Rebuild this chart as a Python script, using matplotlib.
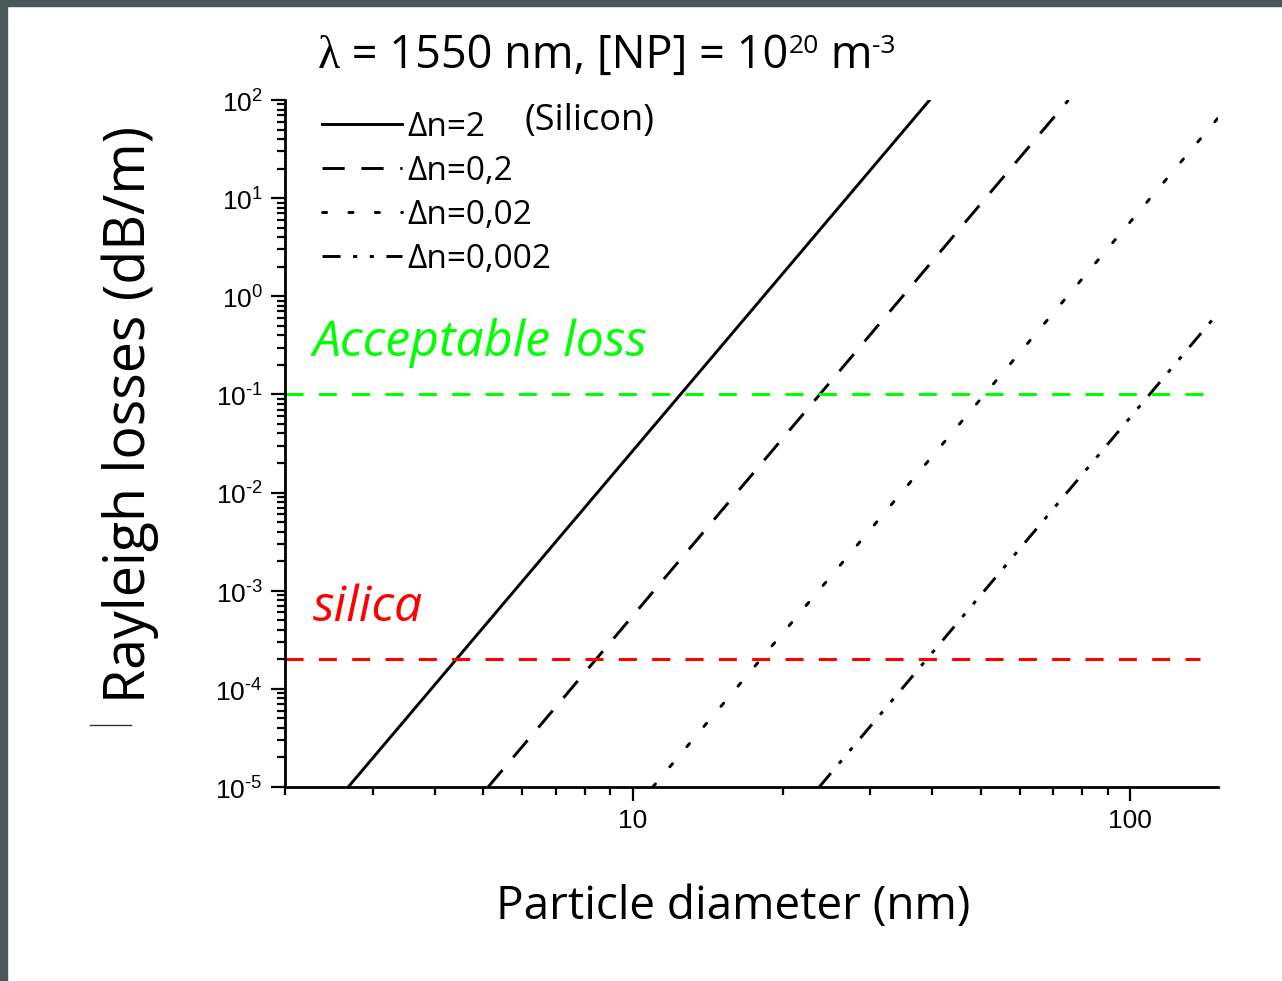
import matplotlib
matplotlib.use("Agg")
import matplotlib.pyplot as plt
from matplotlib.ticker import LogLocator, FixedLocator, FixedFormatter, NullFormatter
from matplotlib.patches import Rectangle
from matplotlib.lines import Line2D
import numpy as np

plt.rcParams['lines.scale_dashes'] = False
plt.rcParams['mathtext.fontset'] = 'custom'
plt.rcParams['mathtext.rm'] = 'Liberation Sans'

############ data #########################################
# each curve is a straight line in log-log, given by its two ends
d_n2 = [2.68, 39.5]
loss_n2 = [1e-5, 1e2]
d_n02 = [5.12, 75.1]
loss_n02 = [1e-5, 1e2]
d_n002 = [10.97, 150]
loss_n002 = [1e-5, 65.5]
d_n0002 = [23.7, 150]
loss_n0002 = [1e-5, 0.674]

labels = ["\u0394n=2", "\u0394n=0,2", "\u0394n=0,02", "\u0394n=0,002"]

acceptable_loss = 0.1
silica_loss = 2e-4
silica_end = 138

ytick_vals = [1e-5, 1e-4, 1e-3, 1e-2, 1e-1, 1e0, 1e1, 1e2]
ytick_labels = ["$10^{\\text{-}5}$", "$10^{\\text{-}4}$", "$10^{\\text{-}3}$",
                "$10^{\\text{-}2}$", "$10^{\\text{-}1}$", "$10^{0}$", "$10^{1}$", "$10^{2}$"]
xtick_vals = [10, 100]
xtick_labels = ["10", "100"]

################ plot ###################
fig = plt.figure(figsize=(12.82, 9.81), dpi=100)
W, H = 1282.0, 981.0
ax = fig.add_axes([285/W, 1-787/H, (1218-285)/W, (787-100)/H])

lw = 2.1
ax.plot(d_n2, loss_n2, color='black', lw=lw, linestyle='-', label=labels[0])
ax.plot(d_n02, loss_n02, color='black', lw=lw, linestyle=(0, (16, 12)), label=labels[1])
ax.plot(d_n002, loss_n002, color='black', lw=lw, linestyle=(0, (3, 16)),
        dash_capstyle='round', label=labels[2])
ax.plot(d_n0002, loss_n0002, color='black', lw=lw,
        linestyle=(0, (13, 9, 3, 9, 3, 9)), label=labels[3])

ax.plot([2, 150], [acceptable_loss, acceptable_loss], color='#00ff00', lw=2.2,
        linestyle=(0, (13, 11)), clip_on=False)
ax.plot([2, silica_end], [silica_loss, silica_loss], color='#ff0000', lw=2.2,
        linestyle=(0, (13, 11)), clip_on=False)

ax.set_xscale('log')
ax.set_yscale('log')
ax.set_xlim(2, 150)
ax.set_ylim(1e-5, 1e2)

ax.yaxis.set_major_locator(FixedLocator(ytick_vals))
ax.yaxis.set_major_formatter(FixedFormatter(ytick_labels))
ax.yaxis.set_minor_locator(LogLocator(base=10, subs=np.arange(2, 10), numticks=20))
ax.yaxis.set_minor_formatter(NullFormatter())
ax.xaxis.set_major_locator(FixedLocator(xtick_vals))
ax.xaxis.set_major_formatter(FixedFormatter(xtick_labels))
ax.xaxis.set_minor_locator(LogLocator(base=10, subs=np.arange(2, 10), numticks=20))
ax.xaxis.set_minor_formatter(NullFormatter())

for s in ['top', 'right']:
    ax.spines[s].set_visible(False)
for s in ['left', 'bottom']:
    ax.spines[s].set_linewidth(2.0)
ax.tick_params(which='major', direction='out', length=10, width=1.6,
               labelsize=19, pad=6)
ax.tick_params(which='minor', direction='out', length=6, width=1.6)
for t in ax.get_xticklabels() + ax.get_yticklabels():
    t.set_fontfamily('Liberation Sans')

# legend
leg = ax.legend(loc='upper left', bbox_to_anchor=(322/W, 1-111/H),
                bbox_transform=fig.transFigure, frameon=False, borderpad=0,
                borderaxespad=0, handlelength=2.4, handletextpad=0.15,
                labelspacing=0.33, prop={'family': 'Open Sans', 'size': 24})
fig.text(525/W, 1-121/H, "(Silicon)", family='Open Sans', fontsize=26,
         ha='left', va='center')

fig.text(313/W, 1-343/H, "Acceptable loss", family='Open Sans', style='italic',
         fontsize=36, color='#00ff00', ha='left', va='center')
fig.text(313/W, 1-608/H, "silica", family='Open Sans', style='italic',
         fontsize=36, color='#ff0000', ha='left', va='center')

# title built from pieces so the exponents can be small
renderer = fig.canvas.get_renderer()
title_parts = [("\u03bb", 33, 0, 'Liberation Serif'),
               (" = 1550 nm, [NP] = 10", 32.5, 0, 'Open Sans'),
               ("20", 19, 15, 'Open Sans'),
               (" m", 32.5, 0, 'Open Sans'),
               ("-3", 19, 15, 'Open Sans')]
x = 318
for txt, size, dy, fam in title_parts:
    t = fig.text(x/W, 1-(68-dy)/H, txt, family=fam, fontsize=size,
                 ha='left', va='baseline')
    x = t.get_window_extent(renderer).x1

fig.text(733/W, 1-907/H, "Particle diameter (nm)", family='Open Sans',
         fontsize=33, ha='center', va='center')
fig.text(130/W, 1-414/H, "Rayleigh losses (dB/m)", family='Open Sans',
         fontsize=40, ha='center', va='center', rotation=90)

# slide border and stray mark
fig.patches.append(Rectangle((0, 1-6/H), 1, 6/H, transform=fig.transFigure,
                             color='#4b5758', zorder=10))
fig.patches.append(Rectangle((0, 0), 7/W, 1, transform=fig.transFigure,
                             color='#4b5758', zorder=10))
fig.lines.append(Line2D([90/W, 131/W], [1-725/H, 1-725/H],
                        transform=fig.transFigure, color='#333333', lw=1.0))

plt.savefig('out.png', dpi=100)
plt.close()
